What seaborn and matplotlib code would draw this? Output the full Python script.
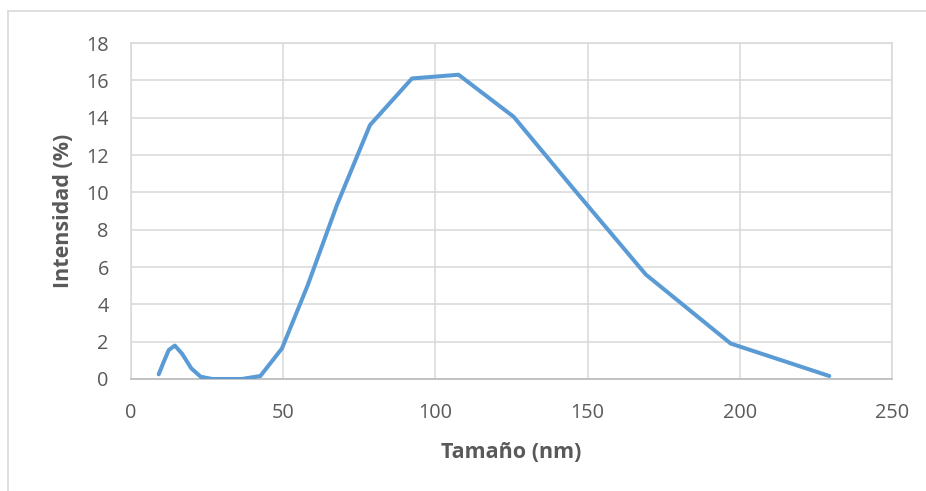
import matplotlib
matplotlib.use("Agg")
import matplotlib.pyplot as plt
from matplotlib.lines import Line2D
import seaborn as sns
import pandas as pd

# Particle size distribution by intensity
tamano_nm = [9.1, 10.7, 12.4, 14.4, 16.8, 19.8, 22.9, 26.7, 31.2, 36.4, 42.5,
             49.6, 58.0, 67.6, 78.5, 92.3, 107.6, 125.7, 146.6, 169.1, 197.0, 229.4]
intensidad = [0.25, 0.9, 1.55, 1.79, 1.35, 0.57, 0.12, 0.0, 0.0, 0.0, 0.16,
              1.64, 5.0, 9.3, 13.6, 16.1, 16.3, 14.05, 9.95, 5.6, 1.9, 0.16]

x_ticks = [0, 50, 100, 150, 200, 250]
y_ticks = [0, 2, 4, 6, 8, 10, 12, 14, 16, 18]

df = pd.DataFrame({"Tamaño (nm)": tamano_nm, "Intensidad (%)": intensidad})

sns.set_style("white")
plt.rcParams["font.family"] = ["Open Sans", "DejaVu Sans"]

W, H = 926, 491
fig = plt.figure(figsize=(W / 100, H / 100), dpi=100)
ax = fig.add_axes([131 / W, 1 - 379 / H, (892 - 131) / W, (379 - 43) / H])

grid_c = "#D9D9D9"
text_c = "#595959"

sns.lineplot(data=df, x="Tamaño (nm)", y="Intensidad (%)", ax=ax, sort=False,
             color="#5B9BD5", linewidth=2.9, zorder=3)

ax.set_xlim(0, 250)
ax.set_ylim(0, 18)
ax.set_xticks(x_ticks)
ax.set_yticks(y_ticks)
ax.grid(True, color=grid_c, linewidth=1.1, zorder=0)
ax.set_axisbelow(True)

for side in ("left", "top", "right"):
    ax.spines[side].set_color(grid_c)
    ax.spines[side].set_linewidth(1.1)
ax.spines["bottom"].set_color("#BFBFBF")
ax.spines["bottom"].set_linewidth(1.3)

ax.tick_params(axis="both", length=0, labelsize=14.3, labelcolor=text_c)
ax.tick_params(axis="y", pad=16)
ax.tick_params(axis="x", pad=17)

ax.set_xlabel("Tamaño (nm)", fontsize=15.5, fontweight="bold", color=text_c, labelpad=14)
ax.set_ylabel("Intensidad (%)", fontsize=15.5, fontweight="bold", color=text_c, labelpad=9)

# Chart area border (left and top edges visible)
fig.add_artist(Line2D([8 / W, 8 / W], [0, 1 - 11 / H], transform=fig.transFigure,
                      color=grid_c, linewidth=1.2))
fig.add_artist(Line2D([8 / W, 1], [1 - 11 / H, 1 - 11 / H], transform=fig.transFigure,
                      color=grid_c, linewidth=1.2))

fig.savefig("out.png", dpi=100, facecolor="white")
